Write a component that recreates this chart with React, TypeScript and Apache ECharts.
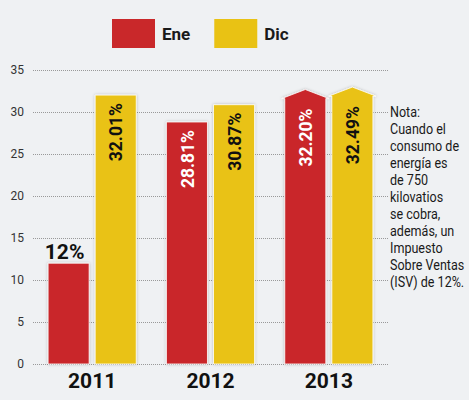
import { useEffect, useRef } from "react";
import * as echarts from "echarts";

const years = ["2011", "2012", "2013"];
const eneValues = [12, 28.81, 32.2];
const dicValues = [32.01, 30.87, 32.49];
const arrowYears = ["2013"];
const yTicks = [0, 5, 10, 15, 20, 25, 30, 35];
const noteLines = [
  "Nota:",
  "Cuando el",
  "consumo de",
  "energía es",
  "de 750",
  "kilovatios",
  "se cobra,",
  "además, un",
  "Impuesto",
  "Sobre Ventas",
  "(ISV) de 12%.",
];

const FONT = 'Roboto, "Liberation Sans", sans-serif';
const RED = "#c9282a";
const YELLOW = "#e9c214";

const fmt = (v: number) => (Number.isInteger(v) ? `${v}%` : `${v.toFixed(2)}%`);

function makeSeries(name: string, values: number[], color: string, offset: number, textColor: string) {
  return {
    name,
    type: "custom",
    itemStyle: { color },
    encode: { x: 0, y: 1 },
    data: values.map((v, i) => [i, v]),
    renderItem: (_params: any, api: any) => {
      const idx = api.value(0);
      const v = api.value(1);
      const base = api.coord([idx, 0]);
      const top = api.coord([idx, v]);
      const band = api.size([1, 0])[0];
      const w = band * 0.347;
      const cx = base[0] + offset * band;
      const x0 = cx - w / 2;
      const barStyle = {
        fill: color,
        stroke: "rgba(255,255,255,0.8)",
        lineWidth: 1,
        shadowBlur: 3,
        shadowColor: "rgba(0,0,0,0.25)",
      };
      const children: any[] = [];
      let labelY = top[1] + 8;
      if (arrowYears.includes(years[idx])) {
        // arrow-topped bar
        const tipY = top[1] - 4;
        const sh = tipY + 9;
        children.push({
          type: "polygon",
          shape: {
            points: [
              [x0, base[1]],
              [x0, sh],
              [x0 - 3, sh],
              [cx, tipY],
              [x0 + w + 3, sh],
              [x0 + w, sh],
              [x0 + w, base[1]],
            ],
          },
          style: barStyle,
        });
        labelY = sh + 10;
      } else {
        children.push({
          type: "rect",
          shape: { x: x0, y: top[1], width: w, height: base[1] - top[1] },
          style: barStyle,
        });
      }
      if (v < 20) {
        children.push({
          type: "text",
          x: cx - 4,
          y: top[1] - 1,
          style: {
            text: fmt(v),
            fill: "#111",
            font: `bold 21px ${FONT}`,
            align: "center",
            verticalAlign: "bottom",
          },
        });
      } else {
        children.push({
          type: "text",
          x: cx,
          y: labelY,
          rotation: Math.PI / 2,
          scaleX: 0.92,
          style: {
            text: fmt(v),
            fill: textColor,
            font: `bold 19px ${FONT}`,
            align: "right",
            verticalAlign: "middle",
          },
        });
      }
      return { type: "group", children };
    },
  };
}

export default function App() {
  const ref = useRef<HTMLDivElement>(null);
  useEffect(() => {
    document.body.style.margin = "0";
    document.body.style.background = "#eff1f3";
    if (!ref.current) return;
    const chart = echarts.init(ref.current, null, { renderer: "svg" });
    chart.setOption({
      animation: false,
      backgroundColor: "#eff1f3",
      legend: {
        data: ["Ene", "Dic"],
        left: 107,
        top: 14,
        icon: "rect",
        itemWidth: 43,
        itemHeight: 29,
        itemGap: 24,
        textStyle: { fontFamily: FONT, fontWeight: "bold", fontSize: 17, color: "#1a1a1a", padding: [0, 0, 0, 2] },
      },
      grid: { left: 33, right: 81, top: 70, bottom: 36 },
      xAxis: {
        type: "category",
        data: years,
        axisLine: { show: false },
        axisTick: { show: false },
        axisLabel: { fontFamily: FONT, fontWeight: "bold", fontSize: 21, color: "#111", margin: 6 },
      },
      yAxis: {
        type: "value",
        min: yTicks[0],
        max: yTicks[yTicks.length - 1],
        interval: 5,
        axisLabel: { fontFamily: FONT, fontSize: 12, color: "#333", margin: 9 },
        splitLine: { lineStyle: { type: "dotted", color: "#999" } },
      },
      graphic: [
        {
          type: "text",
          x: 390,
          y: 103,
          scaleX: 0.81,
          style: {
            text: noteLines.join("\n"),
            font: `15.5px ${FONT}`,
            lineHeight: 17,
            fill: "#1a1a1a",
          },
        },
      ],
      series: [
        makeSeries("Ene", eneValues, RED, -0.199, "#fff"),
        makeSeries("Dic", dicValues, YELLOW, 0.199, "#111"),
      ],
    });
    return () => chart.dispose();
  }, []);
  return <div ref={ref} style={{ width: 469, height: 400 }} />;
}
